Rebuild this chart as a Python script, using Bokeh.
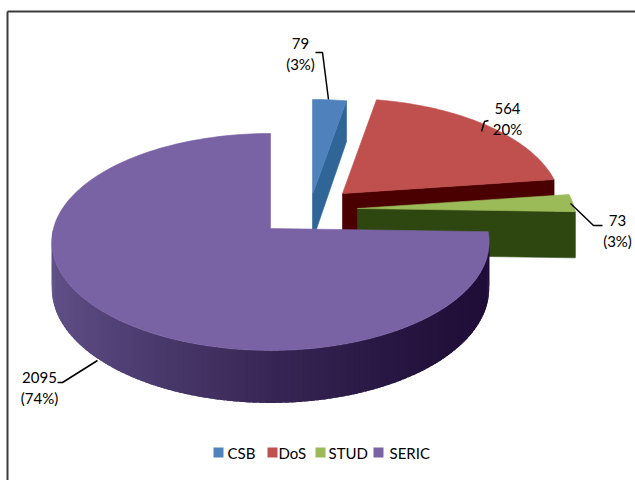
import numpy as np
from bokeh.plotting import figure
from bokeh.models import Range1d, ColumnDataSource
from bokeh.core.properties import value
from bokeh.embed import file_html
from bokeh.resources import INLINE

# ---- data ----
categories = ["CSB", "DoS", "STUD", "SERIC"]
counts = [79, 564, 73, 2095]
pct_labels = ["(3%)", "20%", "(3%)", "(74%)"]
count_labels = [str(c) for c in counts]

# ---- styles ----
top_colors = ["#4f81bd", "#c0504d", "#9bbb59", "#7a63a5"]
side_colors = ["#2f6597", "#4b0000", "#2e4710", "#3d2c5e"]
purple_light = np.array([98, 82, 138])
purple_dark = np.array([31, 13, 55])
FONT = "Lato"

W, H = 635, 480
OFF = 0
cx, cy = 270.0, 228.0
rx, ry = 217.0, 106.8
k = 0.124
h = 46.0
explode = [(42, -34), (72, -35), (87, -20), (0, 0)]

total = float(sum(counts))
fr = np.array(counts) / total
ends = np.cumsum(fr) * 360.0
starts = np.concatenate([[0.0], ends[:-1]])


def proj(theta, r, z, i):
    t = np.radians(theta)
    s = 1.0 / (1.0 + k * r * np.cos(t))
    dx, dy = explode[i]
    x = cx + dx + rx * r * np.sin(t) * s
    y = cy + dy - ry * r * np.cos(t) * s + h * z * s
    return x - OFF, y - OFF


def hexc(c):
    c = np.clip(np.round(c), 0, 255).astype(int)
    return "#%02x%02x%02x" % tuple(c)


p = figure(width=W, height=H, x_range=Range1d(0, W), y_range=Range1d(H, 0),
           output_backend="svg", toolbar_location=None, min_border=0,
           x_axis_location=None, y_axis_location=None, outline_line_color=None)
p.grid.visible = False
p.background_fill_color = "white"

# ---- chart border (top and left only, as in the picture) ----
p.line([7, W], [11, 11], line_color="#3c3c3c", line_width=2)
p.line([7, 7], [11, H], line_color="#3c3c3c", line_width=2)

# ---- draw slices back to front ----
for i in range(len(categories)):
    a0, a1 = starts[i], ends[i]
    nrm = np.radians(a1 + 90.0)
    if np.cos(nrm) < -1e-6:
        pts = [proj(a1, 0, 0, i), proj(a1, 1, 0, i), proj(a1, 1, 1, i), proj(a1, 0, 1, i)]
        p.patch([q[0] for q in pts], [q[1] for q in pts], fill_color=side_colors[i],
                line_color=side_colors[i], line_width=0.6)
    nrm0 = np.radians(a0 - 90.0)
    if np.cos(nrm0) < -1e-6:
        pts = [proj(a0, 0, 0, i), proj(a0, 1, 0, i), proj(a0, 1, 1, i), proj(a0, 0, 1, i)]
        p.patch([q[0] for q in pts], [q[1] for q in pts], fill_color=side_colors[i],
                line_color=side_colors[i], line_width=0.6)
    # curved outer wall (front half only)
    lo, hi = max(a0, 90.0), min(a1, 270.0)
    if hi > lo:
        n = max(2, int((hi - lo) / 1.5) + 1)
        th = np.linspace(lo, hi, n + 1)
        step = th[1] - th[0]
        xs, ys, cols = [], [], []
        for j in range(n):
            t0, t1 = th[j], min(th[j + 1] + 0.8 * step, hi)
            q = [proj(t0, 1, 0, i), proj(t1, 1, 0, i), proj(t1, 1, 1, i), proj(t0, 1, 1, i)]
            xs.append([e[0] for e in q])
            ys.append([e[1] for e in q])
            if categories[i] == "SERIC":
                tm = np.radians(0.5 * (th[j] + th[j + 1]))
                f = ((1 - np.sin(tm)) / 2.0) ** 1.4
                cols.append(hexc(purple_dark + (purple_light - purple_dark) * f))
            else:
                cols.append(side_colors[i])
        # reverse so that overlapping extension lies under the next strip
        src = ColumnDataSource(dict(xs=xs[::-1], ys=ys[::-1], c=cols[::-1]))
        p.patches("xs", "ys", source=src, fill_color="c", line_color=None)
    # top face
    th = np.linspace(a0, a1, max(3, int((a1 - a0) / 1.5) + 2))
    pts = [proj(a0, 0, 0, i)] + [proj(t, 1, 0, i) for t in th]
    p.patch([q[0] for q in pts], [q[1] for q in pts], fill_color=top_colors[i],
            line_color=top_colors[i], line_width=0.6)

# ---- data labels with leader lines ----
label_pos = [(300, 43), (507, 108), (617, 220), (39, 377)]
leaders = [
    [(315, 52), (322, 52), (328, 99)],
    [(481, 131), (484, 121), (488, 120)],
    [(570, 203), (593, 225), (602, 225)],
    [(57, 382), (62, 382), (97, 360)],
]
p.multi_line([[q[0] - OFF for q in L] for L in leaders],
             [[q[1] - OFF for q in L] for L in leaders],
             line_color="black", line_width=1.5)
lab = ColumnDataSource(dict(
    x=[q[0] - OFF for q in label_pos],
    y1=[q[1] - OFF for q in label_pos],
    y2=[q[1] - OFF + 20 for q in label_pos],
    t1=count_labels, t2=pct_labels))
p.text("x", "y1", text="t1", source=lab, text_align="center", text_baseline="middle",
       text_font=value(FONT), text_font_size="15px", text_color="black")
p.text("x", "y2", text="t2", source=lab, text_align="center", text_baseline="middle",
       text_font=value(FONT), text_font_size="15px", text_color="black")

# ---- legend ----
leg_sq_x = [218, 272, 320, 378]
leg_tx_x = [227, 278, 328, 389]
leg_y = 452
leg = ColumnDataSource(dict(
    sx=[v - OFF for v in leg_sq_x], tx=[v - OFF for v in leg_tx_x],
    y=[leg_y - OFF] * 4, c=top_colors, t=categories))
p.scatter("sx", "y", source=leg, marker="square", size=10, fill_color="c", line_color=None)
p.text("tx", "y", text="t", source=leg, text_align="left", text_baseline="middle",
       text_font=value(FONT), text_font_size="15px", text_color="black")

open("out.html", "w").write(file_html(p, INLINE))
